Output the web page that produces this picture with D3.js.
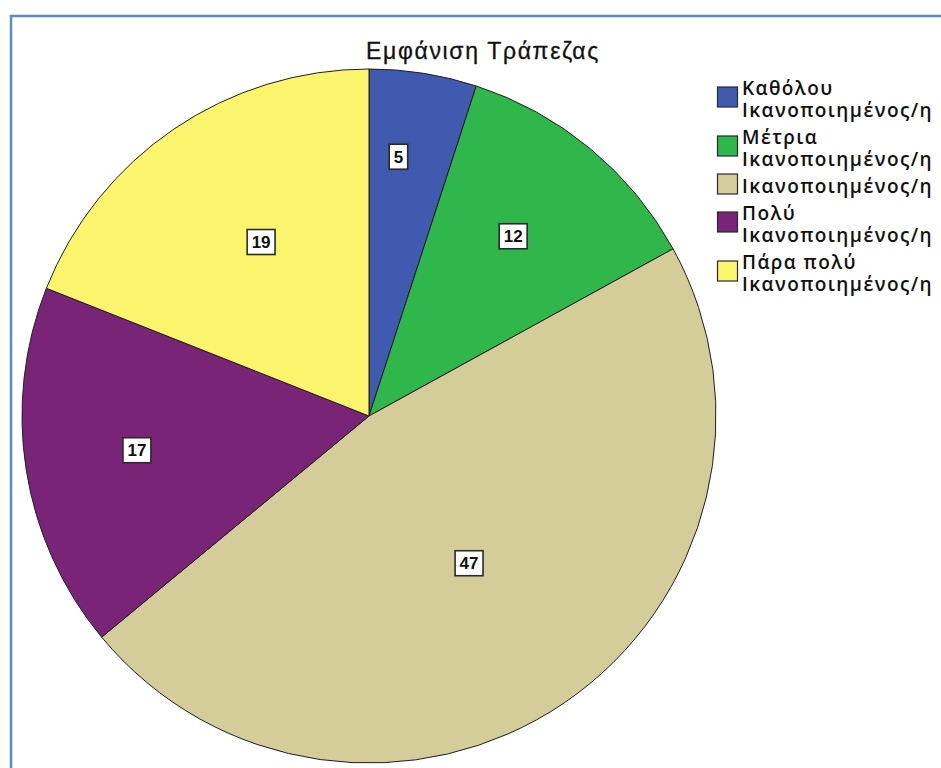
<!DOCTYPE html>
<html>
<head>
<meta charset="utf-8">
<script src="https://cdn.jsdelivr.net/npm/d3@7"></script>
<style>
  body { margin: 0; background: #fff; }
  svg { display: block; }
  text { font-family: Arial, "Liberation Sans", sans-serif; }
  .legend-text { font-family: "Open Sans", Arial, sans-serif; }
</style>
</head>
<body>
<svg id="chart" width="941" height="768"></svg>
<script>
// Chart data
const title = "Εμφάνιση Τράπεζας";
const categories = [
  "Καθόλου Ικανοποιημένος/η",
  "Μέτρια Ικανοποιημένος/η",
  "Ικανοποιημένος/η",
  "Πολύ Ικανοποιημένος/η",
  "Πάρα πολύ Ικανοποιημένος/η"
];
const values = [5, 12, 47, 17, 19];
const colors = ["#3f5aae", "#2fb74b", "#d4cd9a", "#7a2478", "#fbf56e"];

// Layout: where each value label sits inside its slice
// (angle as a fraction of the slice span, distance as a fraction of the radius)
const labelAngle = [0.36, 0.48, 0.5, 0.51, 0.535];
const labelRadius = [0.752, 0.664, 0.513, 0.676, 0.59];

const W = 941, H = 768;
const cx = 369, cy = 416, R = 347;

const svg = d3.select("#chart");

// Frame lines along the top and left
svg.append("line").attr("x1", 10).attr("x2", W).attr("y1", 16).attr("y2", 16)
  .attr("stroke", "#5b8ac8").attr("stroke-width", 2.5);
svg.append("line").attr("x1", 11).attr("x2", 11).attr("y1", 15).attr("y2", H)
  .attr("stroke", "#5b8ac8").attr("stroke-width", 2.5);

// Stretch a text element's letter spacing so it spans a given width
function fitWidth(sel, target) {
  const n = sel.text().length;
  const w = sel.node().getComputedTextLength();
  return (target - w) / Math.max(1, n);
}

// Title
const titleText = svg.append("text")
  .attr("x", 483).attr("y", 59)
  .attr("text-anchor", "middle")
  .attr("font-size", 23)
  .attr("fill", "#111")
  .attr("stroke", "#111").attr("stroke-width", 0.3)
  .text(title);
titleText.attr("letter-spacing", fitWidth(titleText, 234));

// Pie
const color = d3.scaleOrdinal().domain(categories).range(colors);
const pie = d3.pie().sort(null).value(d => d.value).startAngle(0).endAngle(2 * Math.PI);
const arcs = pie(categories.map((c, i) => ({ category: c, value: values[i], idx: i })));
const arc = d3.arc().innerRadius(0).outerRadius(R);

const g = svg.append("g").attr("transform", `translate(${cx},${cy})`);
g.selectAll("path.slice")
  .data(arcs)
  .join("path")
  .attr("class", "slice")
  .attr("d", arc)
  .attr("fill", d => color(d.data.category))
  .attr("stroke", "#1e1e1e")
  .attr("stroke-width", 1)
  .attr("stroke-linejoin", "round");

// Value labels in white boxes
const labels = g.selectAll("g.lbl")
  .data(arcs)
  .join("g")
  .attr("class", "lbl")
  .attr("transform", d => {
    const i = d.data.idx;
    const a = d.startAngle + (d.endAngle - d.startAngle) * labelAngle[i];
    const r = R * labelRadius[i];
    return `translate(${r * Math.sin(a)},${-r * Math.cos(a)})`;
  });
labels.each(function(d) {
  const sel = d3.select(this);
  const t = sel.append("text")
    .attr("text-anchor", "middle")
    .attr("dy", "0.36em")
    .attr("font-size", 17)
    .attr("font-weight", "bold")
    .attr("fill", "#111")
    .text(d.data.value);
  const w = t.node().getComputedTextLength();
  sel.insert("rect", "text")
    .attr("x", -w / 2 - 4.5).attr("y", -12.5)
    .attr("width", w + 9).attr("height", 25)
    .attr("fill", "#fff")
    .attr("stroke", "#2a2a2a")
    .attr("stroke-width", 1.6);
});

// Legend
const legend = svg.append("g").attr("transform", "translate(717,0)");
const lineH = 22, itemGap = 5, maxTextW = 199, legendFont = 19;

function legendText(sel) {
  return sel.attr("class", "legend-text")
    .attr("font-size", legendFont)
    .attr("font-weight", 600);
}

// letter spacing chosen so the longest word spans the legend column
const probeLong = legendText(legend.append("text")).text("Ικανοποιημένος/η");
const legendSpacing = fitWidth(probeLong, 191);
probeLong.remove();

let yCursor = 88; // center of first text line

categories.forEach((cat, i) => {
  // wrap label into lines that fit the legend width
  const words = cat.split(" ");
  const lines = [];
  let cur = "";
  const probe = legendText(legend.append("text")).attr("letter-spacing", legendSpacing);
  words.forEach(wd => {
    const test = cur ? cur + " " + wd : wd;
    probe.text(test);
    if (cur && probe.node().getComputedTextLength() > maxTextW) {
      lines.push(cur);
      cur = wd;
    } else {
      cur = test;
    }
  });
  lines.push(cur);
  probe.remove();

  const centers = lines.map((_, k) => yCursor + k * lineH);
  const mid = d3.mean(centers) - 2;
  legend.append("rect")
    .attr("x", 0.5).attr("y", mid - 10)
    .attr("width", 20).attr("height", 20)
    .attr("fill", color(cat))
    .attr("stroke", "#2a2a2a")
    .attr("stroke-width", 1.2);
  lines.forEach((ln, k) => {
    legendText(legend.append("text"))
      .attr("x", 25).attr("y", centers[k])
      .attr("dy", "0.36em")
      .attr("letter-spacing", legendSpacing)
      .attr("fill", "#111")
      .text(ln);
  });
  yCursor = centers[centers.length - 1] + lineH + itemGap;
});
</script>
</body>
</html>
